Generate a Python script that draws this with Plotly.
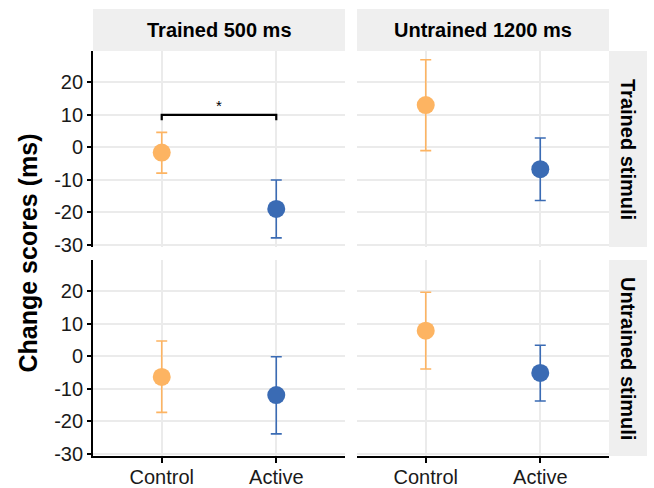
import plotly.graph_objects as go

# ---- data ----
groups = ["Control", "Active"]
group_pos = [1, 2]
col_labels = ["Trained 500 ms", "Untrained 1200 ms"]
row_labels = ["Trained stimuli", "Untrained stimuli"]
y_ticks = [-30, -20, -10, 0, 10, 20]
y_tick_text = ["-30", "-20", "-10", "0", "10", "20"]

mean_tr_500 = [-1.6, -18.9]
upper_tr_500 = [4.6, -10.0]
lower_tr_500 = [-7.9, -27.8]

mean_tr_1200 = [13.0, -6.7]
upper_tr_1200 = [26.9, 2.9]
lower_tr_1200 = [-1.0, -16.3]

mean_un_500 = [-6.3, -11.9]
upper_un_500 = [4.7, -0.1]
lower_un_500 = [-17.2, -23.8]

mean_un_1200 = [7.9, -5.1]
upper_un_1200 = [19.7, 3.4]
lower_un_1200 = [-3.9, -13.7]

sig_x = [1, 1, 2, 2]
sig_y = [8.3, 10, 10, 8.3]
sig_label = "*"
sig_label_x = 1.5
sig_label_y = 12.8

colors = ["#FDB462", "#3A6BB4"]

panels = [
    (1, 1, mean_tr_500, upper_tr_500, lower_tr_500),
    (1, 2, mean_tr_1200, upper_tr_1200, lower_tr_1200),
    (2, 1, mean_un_500, upper_un_500, lower_un_500),
    (2, 2, mean_un_1200, upper_un_1200, lower_un_1200),
]

W, H = 654, 488
ml, mr, mt, mb = 93, 45, 51, 32
pw, ph = W - ml - mr, H - mt - mb
gap_x = 12 / pw
gap_y = 13 / ph

fig = go.Figure()

axis_map = {(1, 1): ("x", "y"), (1, 2): ("x2", "y2"), (2, 1): ("x3", "y3"), (2, 2): ("x4", "y4")}

for (r, c, m, u, lo) in panels:
    xa, ya = axis_map[(r, c)]
    for i, g in enumerate(groups):
        fig.add_trace(go.Scatter(
            x=[group_pos[i]], y=[m[i]], mode="markers",
            marker=dict(size=18, color=colors[i]),
            error_y=dict(type="data", symmetric=False,
                         array=[u[i] - m[i]], arrayminus=[m[i] - lo[i]],
                         color=colors[i], thickness=1.6, width=5.5),
            xaxis=xa, yaxis=ya, showlegend=False, hoverinfo="skip"))

fig.add_trace(go.Scatter(x=sig_x, y=sig_y, mode="lines",
                         line=dict(color="black", width=2.2),
                         xaxis="x", yaxis="y", showlegend=False, hoverinfo="skip"))
fig.add_annotation(x=sig_label_x, y=sig_label_y, xref="x", yref="y", text=sig_label,
                   showarrow=False, font=dict(size=15, color="black", family="Liberation Sans"))

xdom = [[0, 0.5 - gap_x / 2], [0.5 + gap_x / 2, 1]]
ydom = [[0.5 + gap_y / 2, 1], [0, 0.5 - gap_y / 2]]

font_fam = "Liberation Sans, Arial, sans-serif"
layout = dict(
    width=W, height=H,
    margin=dict(l=ml, r=mr, t=mt, b=mb),
    paper_bgcolor="white", plot_bgcolor="white",
    font=dict(family=font_fam, color="black"),
)

grid_col = "#EBEBEB"
for (r, c), (xa, ya) in axis_map.items():
    xkey = "xaxis" + ("" if xa == "x" else xa[1:])
    ykey = "yaxis" + ("" if ya == "y" else ya[1:])
    bottom = (r == 2)
    left = (c == 1)
    layout[xkey] = dict(
        domain=xdom[c - 1], anchor=ya, range=[0.4, 2.6], automargin=False,
        tickvals=group_pos, ticktext=groups if bottom else ["", ""],
        showticklabels=bottom, ticklabelstandoff=-3,
        ticks="outside" if bottom else "", ticklen=5, tickwidth=1.5, tickcolor="black",
        showline=bottom, linecolor="black", linewidth=1.8,
        showgrid=True, gridcolor=grid_col, gridwidth=1.6, zeroline=False,
        tickfont=dict(size=20, color="#1a1a1a"),
    )
    layout[ykey] = dict(
        domain=ydom[r - 1], anchor=xa, range=[-30.6, 29.6], automargin=False,
        tickvals=y_ticks, ticktext=y_tick_text, showticklabels=left,
        ticks="outside" if left else "", ticklen=4, tickwidth=1.5, tickcolor="black",
        showline=left, linecolor="black", linewidth=1.8,
        showgrid=True, gridcolor=grid_col, gridwidth=1.6, zeroline=False,
        tickfont=dict(size=20, color="#1a1a1a"),
    )

fig.update_layout(**layout)

shapes = []
annots = []
strip_h = 42 / ph
strip_w = 38 / pw
for c in range(2):
    shapes.append(dict(type="rect", xref="paper", yref="paper",
                       x0=xdom[c][0], x1=xdom[c][1], y0=1, y1=1 + strip_h,
                       fillcolor="#EFEFEF", line=dict(width=0), layer="below"))
    annots.append(dict(xref="paper", yref="paper", x=(xdom[c][0] + xdom[c][1]) / 2,
                       y=1 + strip_h / 2, text="<b>%s</b>" % col_labels[c], showarrow=False,
                       font=dict(size=20, color="black", family=font_fam),
                       xanchor="center", yanchor="middle"))
for r in range(2):
    shapes.append(dict(type="rect", xref="paper", yref="paper",
                       x0=1, x1=1 + strip_w, y0=ydom[r][0], y1=ydom[r][1],
                       fillcolor="#EFEFEF", line=dict(width=0), layer="below"))
    annots.append(dict(xref="paper", yref="paper", x=1 + strip_w / 2,
                       y=(ydom[r][0] + ydom[r][1]) / 2, text="<b>%s</b>" % row_labels[r],
                       showarrow=False, textangle=90,
                       font=dict(size=20, color="black", family=font_fam),
                       xanchor="center", yanchor="middle"))
annots.append(dict(xref="paper", yref="paper", x=-66 / pw, y=0.5,
                   text="<b>Change scores (ms)</b>", showarrow=False, textangle=-90,
                   font=dict(size=25, color="black", family=font_fam),
                   xanchor="center", yanchor="middle"))

fig.update_layout(shapes=shapes)
for a in annots:
    fig.add_annotation(**a)

fig.write_html("out.html", config={"displayModeBar": False},
               post_script="document.body.style.margin='0';")
